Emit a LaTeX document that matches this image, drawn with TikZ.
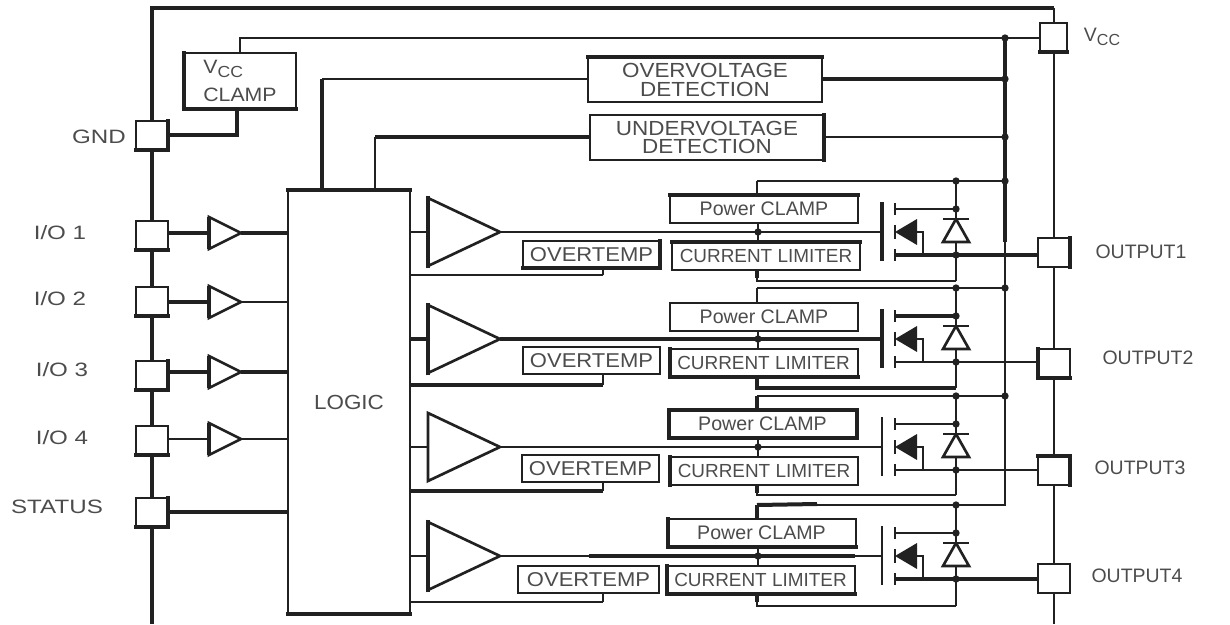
\documentclass[tikz,border=0pt]{standalone}
\usepackage{fontspec}
\usepackage{tikz}
\usetikzlibrary{shapes.geometric}
\setmainfont{Liberation Sans}
\newfontfamily\widefont[FakeStretch=1.25]{Liberation Sans}
\newfontfamily\midfont[FakeStretch=1.1]{Liberation Sans}
\definecolor{wirecol}{gray}{0.13}
\definecolor{textcol}{gray}{0.3}
\newcommand{\vccname}{V\raisebox{-3pt}{\fontsize{12}{12}\selectfont CC}}
\tikzset{
  wire/.style={line width=1.5pt,draw=wirecol},
  heavy/.style={line width=3pt,draw=wirecol},
  block/.style={wire,fill=white,inner sep=0pt,outer sep=0pt,text=textcol,align=center},
  pinbox/.style={block,minimum width=24pt,minimum height=21.75pt},
  clampbox/.style={block,minimum width=141pt,minimum height=21pt,font=\fontsize{14.7}{17}\selectfont},
  limitbox/.style={block,minimum width=141pt,minimum height=21pt,font=\fontsize{14.2}{17}\selectfont},
  tempbox/.style={block,minimum width=103pt,minimum height=20.25pt,font=\fontsize{15}{17}\midfont},
  detectbox/.style={block,minimum width=175pt,minimum height=33.75pt,font=\fontsize{15.3}{13.8}\midfont},
  amp/.style={isosceles triangle,isosceles triangle stretches,shape border rotate=0,draw=wirecol,line width=2pt,fill=white,inner sep=0pt,outer sep=0pt,anchor=lower side},
  dot/.style={circle,fill=wirecol,inner sep=0pt,minimum size=5.5pt},
  leftlabel/.style={text=textcol,inner sep=0pt,font=\fontsize{14.5}{17}\widefont},
  rightlabel/.style={text=textcol,inner sep=0pt,font=\fontsize{14.6}{17}\selectfont}
}
\begin{document}
\begin{tikzpicture}[x=0.75pt,y=-0.75pt]
  \useasboundingbox (0,0) rectangle (1230,624);
  \coordinate (tl) at (151.5,8);
  \coordinate (tr) at (1053.5,8);
  \coordinate (bl) at (151.5,624);
  \coordinate (br) at (1053.5,624);
  \coordinate (rail) at (1005,38);
  \coordinate (railend) at (1005,242);
  \coordinate (diode) at (956,38);

  % pins and their names
  \foreach \n/\y in {gnd/135.5,io1/235.5,io2/301,io3/375,io4/440,status/512}
    \node[pinbox] (\n) at (151.5,\y) {};
  \foreach \n/\x/\y/\name in {gndname/99/137/GND,ioname1/60/233/{I/O 1},ioname2/60/299/{I/O 2},ioname3/62/370/{I/O 3},ioname4/62/438/{I/O 4},statusname/57/507/STATUS}
    \node[leftlabel] (\n) at (\x,\y) {\name};
  \node[pinbox,minimum width=20.5pt] (vcc) at (1053.5,38) {};
  \foreach \i/\y in {1/252.5,2/363,3/470.5,4/578.5}
    \node[pinbox] (out\i) at (1053.5,\y) {};
  \node[rightlabel] (vccpin) at (1102,37) {\vccname};
  \foreach \i/\x/\y in {1/1141/252,2/1148/358,3/1140/468,4/1137/576}
    \node[rightlabel] (outname\i) at (\x,\y) {OUTPUT\i};

  % blocks
  \node[block,minimum width=84pt,minimum height=42pt,font=\fontsize{14.5}{17}\midfont,align=left] (vclamp) at (240,81) {\vccname\\[4pt]CLAMP};
  \node[detectbox] (over) at (705,80) {OVERVOLTAGE\\DETECTION};
  \node[detectbox] (under) at (707,137.5) {UNDERVOLTAGE\\DETECTION};
  \node[block,minimum width=91.5pt,minimum height=318pt,font=\fontsize{15.3}{17}\midfont] (logic) at (349,402) {LOGIC};
  \foreach \i/\x/\y in {1/764/209,2/764/316.5,3/762.5/424,4/761.5/533}
    \node[clampbox] (clamp\i) at (\x,\y) {Power CLAMP};
  \foreach \i/\x/\y in {1/766/255.5,2/763.5/363,3/764/470.5,4/760.5/579.5}
    \node[limitbox] (limit\i) at (\x,\y) {CURRENT LIMITER};
  \foreach \i/\x/\y/\w in {1/591.5/254.5/103pt,2/591.5/360.5/103pt,3/590.5/468.5/103pt,4/588.5/579.5/106pt}
    \node[tempbox,minimum width=\w] (temp\i) at (\x,\y) {OVERTEMP};

  % supply and ground rails
  \draw[heavy] (gnd) -- (tl) -- (tr);
  \draw[wire] (tr) -- (vcc);
  \foreach \a/\b in {gnd/io1,io1/io2,io2/io3,io3/io4,io4/status,status/bl}
    \draw[heavy] (\a) -- (\b);
  \foreach \a/\b in {vcc/out1,out1/out2,out2/out3,out3/out4,out4/br}
    \draw[wire] (\a) -- (\b);
  \coordinate (vtop) at (240,38);
  \draw[wire] (vclamp.north -| vtop) -- (vtop) -- (vcc.west |- vtop);
  \coordinate (vlow) at (237,135.5);
  \draw[heavy] (vclamp.south -| vlow) -- (vlow) -- (gnd.east |- vlow);
  \draw[heavy] (rail) -- (railend);
  \coordinate (lo1) at (322,79);
  \coordinate (lo2) at (375,137);
  \draw[wire] (over.west |- lo1) -- (lo1);
  \draw[heavy] (lo1) -- (lo1 |- logic.north);
  \draw[heavy] (under.west |- lo2) -- (lo2);
  \draw[wire] (lo2) -- (lo2 |- logic.north);
  \draw[heavy] (over.east |- lo1) -- (rail |- lo1);
  \draw[wire] (under.east |- lo2) -- (rail |- lo2);
  \node[dot] (railvcc) at (rail) {};
  \node[dot] (railover) at (rail |- lo1) {};
  \node[dot] (railunder) at (rail |- lo2) {};

  % input buffers
  \foreach \n/\i/\y/\wa/\wb in {io1/1/233/heavy/heavy,io2/2/302/heavy/wire,io3/3/372/heavy/heavy,io4/4/439/wire/wire} {
    \node[amp,minimum width=24pt,minimum height=24pt] (buf\i) at (209,\y) {};
    \draw[\wa] (\n.east |- buf\i.lower side) -- (buf\i.lower side);
    \draw[\wb] (buf\i.apex) -- (logic.west |- buf\i.apex);
    \draw[heavy] (buf\i.left corner) -- (buf\i.right corner);
  }
  \draw[heavy] (status) -- (logic.west |- status);

  % output channels
  \foreach \i/\g/\ty/\by/\oy/\wdrv/\wtemp/\wsrc/\wgate in {1/232/181/281/275/wire/wire/heavy/heavy,2/339/288/388/385/heavy/heavy/wire/heavy,3/447/396/495/491/wire/heavy/wire/wire,4/556/505/606/602/wire/wire/heavy/wire} {
    \node[amp,minimum width=51pt,minimum height=54pt] (drv\i) at (428,\g) {};
    \coordinate (gate\i) at (882,\g);
    \coordinate (top\i) at (757,\ty);
    \coordinate (low\i) at (757,\by);
    \coordinate (drain\i) at (895,\g-23);
    \coordinate (source\i) at (895,\g+23);
    \coordinate (body\i) at (895,\g);
    \coordinate (fold\i) at (923,\g);
    \coordinate (tempnode\i) at (603,\oy);
    \node[dot] (join\i) at (758,\g) {};
    \draw[\wdrv] (logic.east |- drv\i.lower side) -- (drv\i.lower side);
    \draw[\wdrv] (drv\i.apex) -- (gate\i);
    \draw[wire] (clamp\i.south -| join\i) -- (limit\i.north -| join\i);
    \draw[wire] (top\i) -- (top\i -| rail);
    \draw[wire] (top\i) -- (clamp\i.north -| top\i);
    \draw[\wdrv] (limit\i.south -| low\i) -- (low\i) -- (low\i -| diode);
    \draw[heavy] (limit\i.south -| low\i) -- ++(0,8);
    \draw[\wtemp] (tempnode\i) -- (logic.east |- tempnode\i);
    \draw[wire] (temp\i.south -| tempnode\i) -- (tempnode\i);
    % power switch with its clamp diode
    \draw[wire] (top\i -| diode) -- (low\i -| diode);
    \draw[\wdrv] (drain\i) -- (drain\i -| diode);
    \draw[\wsrc] (source\i) -- (out\i.west |- source\i);
    \draw[\wgate] (882,\g-30) -- (882,\g+29);
    \draw[wire] (895,\g-29) -- (895,\g-17);
    \draw[wire] (895,\g+17) -- (895,\g+29);
    \draw[wire] (895,\g-7) -- (895,\g+7);
    \fill[wirecol] (body\i) -- (917,\g-13) -- (917,\g+13) -- cycle;
    \draw[wire] (917,\g) -- (fold\i) -- (fold\i |- source\i);
    \draw[line width=2pt,draw=wirecol,fill=white,line join=miter] (956,\g-13) -- (969,\g+10) -- (943,\g+10) -- cycle;
    \draw[line width=2pt,draw=wirecol] (943,\g-13) -- (969,\g-13);
    \node[dot] (dtop\i) at (top\i -| diode) {};
    \node[dot] (ddrain\i) at (drain\i -| diode) {};
    \node[dot] (dsource\i) at (source\i -| diode) {};
  }
  \draw[wire] (railend) -- (rail |- top4) -- (top4);
  \draw[heavy] (top3) -- (clamp3.north -| top3);
  \draw[heavy] (top4) -- (clamp4.north -| top4);
  \coordinate (topend) at (817,504);
  \draw[heavy] (top4) -- (topend);
  \coordinate (gatestart) at (589,556);
  \draw[heavy] (gatestart) -- (limit4.east |- gatestart);
  \foreach \i in {1,2,3}
    \node[dot] (railtop\i) at (top\i -| rail) {};

  % the heavier sides of the boxes
  \foreach \n/\p/\q in {gnd/north east/south east,gnd/south east/south west,io1/south east/south west,io2/south east/south west,io3/north east/south east,io3/south east/south west,io4/south east/south west,status/north east/south east,status/south east/south west,vcc/south east/south west,out1/north east/south east,out2/north west/south west,out2/south east/south west,out3/north west/north east,out3/north east/south east,
    vclamp/north west/south west,vclamp/south west/south east,over/north west/north east,under/north east/south east,logic/north west/north east,logic/south west/south east,
    clamp1/north west/north east,clamp3/north west/north east,clamp3/north east/south east,clamp3/south east/south west,clamp3/south west/north west,clamp4/north west/south west,clamp4/south west/south east,
    limit1/north west/north east,limit2/north west/south west,limit2/south west/south east,limit3/north west/south west,limit4/north west/south west,limit4/south west/south east,
    temp1/north east/south east,temp1/south east/south west,drv1/left corner/right corner,drv2/left corner/right corner,drv4/left corner/right corner}
    \draw[heavy,line cap=rect] (\n.\p) -- (\n.\q);
\end{tikzpicture}
\end{document}
